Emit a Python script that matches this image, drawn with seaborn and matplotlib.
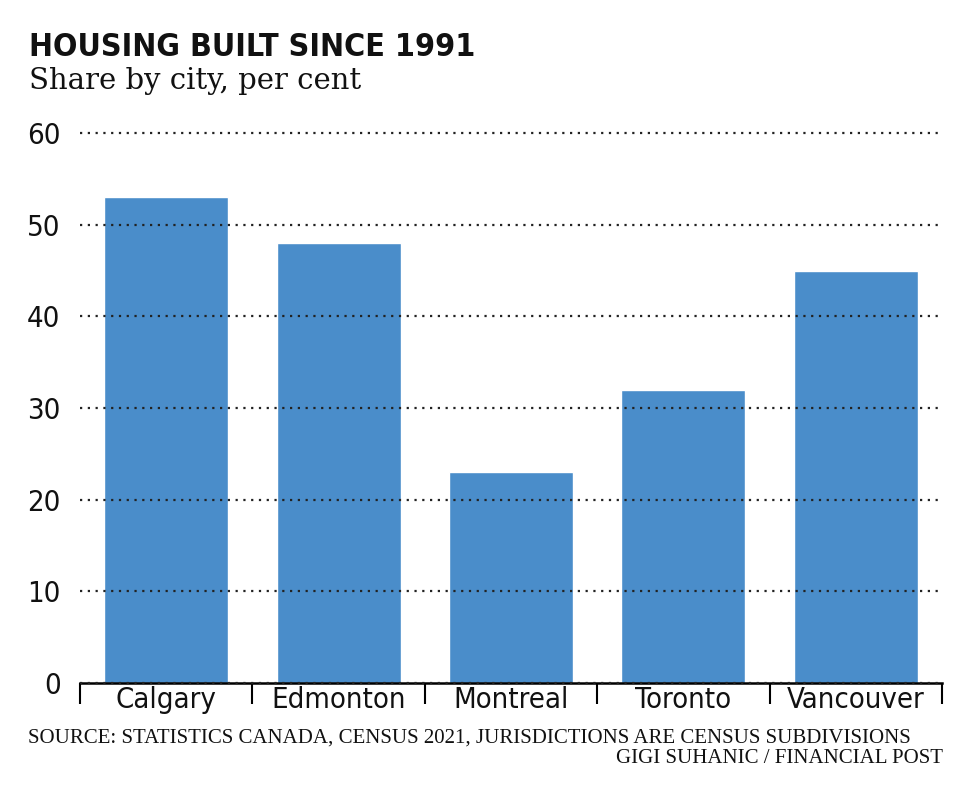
import pandas as pd
import numpy as np
import matplotlib.pyplot as plt
import seaborn as sns

# Data
cities = ['Calgary', 'Edmonton', 'Montreal', 'Toronto', 'Vancouver']
share = [53, 48, 23, 32, 45]
y_ticks = [0, 10, 20, 30, 40, 50, 60]

df = pd.DataFrame({'city': cities, 'share': share})

sns.set_style("white")
plt.rcParams['font.family'] = ['DejaVu Sans']
plt.rcParams['font.stretch'] = 'condensed'

fig = plt.figure(figsize=(9.6, 7.88), dpi=100)
ax = fig.add_axes([0.0833, 0.1332, 0.8979, 0.698])

sns.barplot(data=df, x='city', y='share', color='#4A8DCA', saturation=1,
            width=0.72, ax=ax)

ax.set_ylim(0, 60)
ax.set_xlim(-0.5, len(cities) - 0.5)
ax.set_yticks(y_ticks)
ax.set_xlabel('')
ax.set_ylabel('')

# dotted gridlines drawn over the bars
ax.set_axisbelow(False)
ax.yaxis.grid(True, linestyle=(0, (1, 2.5)), color='#222222', linewidth=1.6)
ax.xaxis.grid(False)
for gl in ax.yaxis.get_gridlines():
    gl.set_clip_on(False)

for s in ['top', 'right', 'left']:
    ax.spines[s].set_visible(False)
ax.spines['bottom'].set_color('black')
ax.spines['bottom'].set_linewidth(1.8)

ax.tick_params(axis='y', length=0, pad=14, labelsize=21, labelcolor='#111111')
ax.tick_params(axis='x', which='major', length=0, pad=2, labelsize=21, labelcolor='#111111')
ax.set_xticks(np.arange(-0.5, len(cities), 1.0), minor=True)
ax.tick_params(axis='x', which='minor', bottom=True, length=15, width=1.5,
               color='black', direction='out')

fig.text(0.03, 0.94, 'HOUSING BUILT SINCE 1991', fontsize=23, fontweight='bold',
         fontstretch='condensed', color='#111111', va='center')
fig.text(0.03, 0.897, 'Share by city, per cent', fontsize=21,
         family=['DejaVu Serif'], fontstretch='normal', color='#111111', va='center')

fig.text(0.029, 0.063, 'SOURCE: STATISTICS CANADA, CENSUS 2021, JURISDICTIONS ARE CENSUS SUBDIVISIONS',
         fontsize=15, family=['Liberation Serif', 'DejaVu Serif'], color='#111111', va='center')
fig.text(0.982, 0.037, 'GIGI SUHANIC / FINANCIAL POST', fontsize=15, ha='right',
         family=['Liberation Serif', 'DejaVu Serif'], color='#111111', va='center')

fig.savefig('out.png', dpi=100, facecolor='white')
